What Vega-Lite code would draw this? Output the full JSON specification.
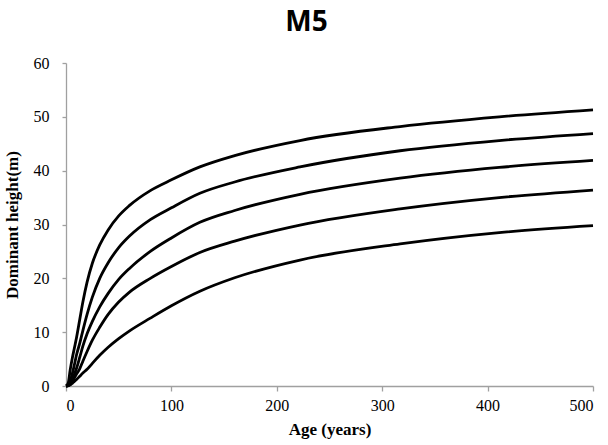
{
  "$schema": "https://vega.github.io/schema/vega-lite/v6.json",
  "autosize": "none",
  "width": 527,
  "height": 323,
  "padding": {"left": 66, "top": 63, "right": 15, "bottom": 59},
  "background": "white",
  "title": {"text": "M5", "font": "Open Sans", "fontWeight": "bold", "fontSize": 28, "color": "black", "anchor": "middle", "dx": -23, "offset": 18},
  "data": {"values": [
    {"s":"S1","age":0,"h":0},{"s":"S1","age":2,"h":0.5},{"s":"S1","age":4,"h":3.0},{"s":"S1","age":6,"h":5.2},{"s":"S1","age":8,"h":7.1},{"s":"S1","age":10,"h":9.0},{"s":"S1","age":13,"h":12.3},{"s":"S1","age":16,"h":15.6},{"s":"S1","age":20,"h":19.3},{"s":"S1","age":25,"h":22.8},{"s":"S1","age":32,"h":26.2},{"s":"S1","age":40,"h":29.0},{"s":"S1","age":50,"h":31.6},{"s":"S1","age":60,"h":33.5},{"s":"S1","age":80,"h":36.3},{"s":"S1","age":100,"h":38.3},{"s":"S1","age":127,"h":40.7},{"s":"S1","age":160,"h":42.8},{"s":"S1","age":222,"h":45.6},{"s":"S1","age":317,"h":48.2},{"s":"S1","age":411,"h":50.0},{"s":"S1","age":500,"h":51.3},
    {"s":"S2","age":0,"h":0},{"s":"S2","age":2,"h":0.2},{"s":"S2","age":4,"h":0.9},{"s":"S2","age":6,"h":2.3},{"s":"S2","age":8,"h":4.0},{"s":"S2","age":10,"h":5.8},{"s":"S2","age":13,"h":7.9},{"s":"S2","age":16,"h":10.3},{"s":"S2","age":20,"h":13.3},{"s":"S2","age":25,"h":16.5},{"s":"S2","age":32,"h":20.0},{"s":"S2","age":40,"h":22.9},{"s":"S2","age":50,"h":25.7},{"s":"S2","age":60,"h":27.8},{"s":"S2","age":80,"h":30.9},{"s":"S2","age":100,"h":33.1},{"s":"S2","age":127,"h":35.8},{"s":"S2","age":160,"h":37.9},{"s":"S2","age":222,"h":40.7},{"s":"S2","age":317,"h":43.7},{"s":"S2","age":411,"h":45.6},{"s":"S2","age":500,"h":46.9},
    {"s":"S3","age":0,"h":0},{"s":"S3","age":2,"h":0.1},{"s":"S3","age":4,"h":0.5},{"s":"S3","age":6,"h":1.2},{"s":"S3","age":8,"h":2.2},{"s":"S3","age":10,"h":3.3},{"s":"S3","age":13,"h":5.3},{"s":"S3","age":16,"h":7.4},{"s":"S3","age":20,"h":9.7},{"s":"S3","age":25,"h":12.0},{"s":"S3","age":32,"h":14.7},{"s":"S3","age":40,"h":17.2},{"s":"S3","age":50,"h":19.8},{"s":"S3","age":60,"h":21.8},{"s":"S3","age":80,"h":25.0},{"s":"S3","age":100,"h":27.5},{"s":"S3","age":127,"h":30.4},{"s":"S3","age":160,"h":32.6},{"s":"S3","age":222,"h":35.6},{"s":"S3","age":317,"h":38.6},{"s":"S3","age":411,"h":40.6},{"s":"S3","age":500,"h":41.9},
    {"s":"S4","age":0,"h":0},{"s":"S4","age":2,"h":0.05},{"s":"S4","age":4,"h":0.3},{"s":"S4","age":6,"h":0.8},{"s":"S4","age":8,"h":1.5},{"s":"S4","age":10,"h":2.2},{"s":"S4","age":13,"h":3.2},{"s":"S4","age":16,"h":4.6},{"s":"S4","age":20,"h":6.4},{"s":"S4","age":25,"h":8.5},{"s":"S4","age":32,"h":10.9},{"s":"S4","age":40,"h":13.3},{"s":"S4","age":50,"h":15.6},{"s":"S4","age":60,"h":17.4},{"s":"S4","age":80,"h":20.0},{"s":"S4","age":100,"h":22.2},{"s":"S4","age":127,"h":24.8},{"s":"S4","age":160,"h":26.9},{"s":"S4","age":222,"h":29.9},{"s":"S4","age":317,"h":32.9},{"s":"S4","age":411,"h":35.0},{"s":"S4","age":500,"h":36.4},
    {"s":"S5","age":0,"h":0},{"s":"S5","age":2,"h":0.03},{"s":"S5","age":4,"h":0.2},{"s":"S5","age":6,"h":0.5},{"s":"S5","age":8,"h":0.85},{"s":"S5","age":10,"h":1.2},{"s":"S5","age":13,"h":1.8},{"s":"S5","age":16,"h":2.4},{"s":"S5","age":20,"h":3.1},{"s":"S5","age":25,"h":4.2},{"s":"S5","age":32,"h":5.7},{"s":"S5","age":40,"h":7.2},{"s":"S5","age":50,"h":8.8},{"s":"S5","age":60,"h":10.2},{"s":"S5","age":80,"h":12.6},{"s":"S5","age":100,"h":14.9},{"s":"S5","age":127,"h":17.6},{"s":"S5","age":160,"h":20.1},{"s":"S5","age":222,"h":23.4},{"s":"S5","age":317,"h":26.4},{"s":"S5","age":411,"h":28.5},{"s":"S5","age":500,"h":29.8}
  ]},
  "mark": {"type": "line", "color": "black", "strokeWidth": 2.8, "interpolate": "monotone"},
  "encoding": {
    "x": {"field": "age", "type": "quantitative",
      "scale": {"domain": [0, 500], "nice": false},
      "axis": {"title": "Age (years)", "values": [0,100,200,300,400,500], "grid": false,
        "domainColor": "#A0A0A0", "tickColor": "#A0A0A0", "tickSize": 5, "domainWidth": 1.3, "tickWidth": 1.3,
        "labelFont": "Liberation Serif", "labelFontSize": 16, "labelColor": "black", "labelPadding": 6,
        "titleFont": "Liberation Serif", "titleFontSize": 17, "titleFontWeight": "bold", "titleColor": "black", "titlePadding": 8}},
    "y": {"field": "h", "type": "quantitative",
      "scale": {"domain": [0, 60], "nice": false},
      "axis": {"title": "Dominant height(m)", "values": [0,10,20,30,40,50,60], "grid": false,
        "domainColor": "#A0A0A0", "tickColor": "#A0A0A0", "tickSize": 4, "domainWidth": 1.3, "tickWidth": 1.3,
        "labelFont": "Liberation Serif", "labelFontSize": 16, "labelColor": "black", "labelPadding": 13,
        "titleFont": "Liberation Serif", "titleFontSize": 17, "titleFontWeight": "bold", "titleColor": "black", "titlePadding": 12}},
    "detail": {"field": "s"}
  },
  "config": {"view": {"stroke": null}}
}
